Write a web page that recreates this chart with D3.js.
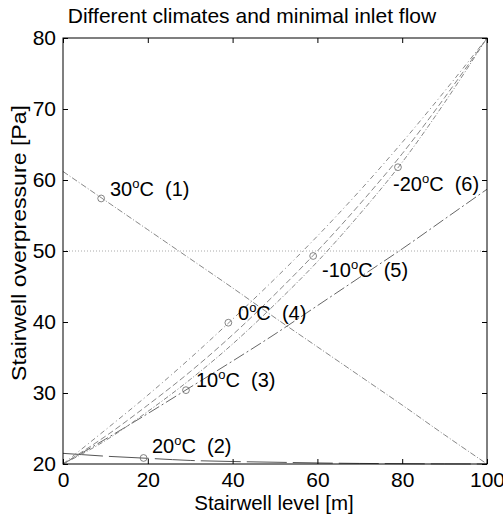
<!DOCTYPE html>
<html><head><meta charset="utf-8">
<script src="https://cdn.jsdelivr.net/npm/d3@7"></script>
<style>body{margin:0;background:#fff}text{font-family:"Liberation Sans",Arial,sans-serif;fill:#000;white-space:pre}</style>
</head><body><svg id="c" width="503" height="518"></svg>
<script>
const title = "Different climates and minimal inlet flow";
const xLabel = "Stairwell level [m]";
const yLabel = "Stairwell overpressure [Pa]";
const xTicks = [0,20,40,60,80,100];
const yTicks = [20,30,40,50,60,70,80];
const xs = [0,10,20,30,40,50,60,70,80,90,100];
const s1 = [61.2,57.1,53.0,48.9,44.8,40.6,36.5,32.4,28.3,24.1,20.0];     // 30°C
const s2 = [21.5,21.1,20.8,20.5,20.35,20.25,20.15,20.08,20.04,20.01,20.0]; // 20°C
const s3 = [20,23.5,27.1,30.8,34.5,38.3,42.3,46.3,50.3,54.5,58.7];    // 10°C
const s4 = [20,24.8,29.7,34.9,40.4,46.1,52.1,58.5,65.3,72.5,80];      // 0°C
const s5 = [20,23.9,28.3,33.0,38.2,43.9,50.0,56.6,63.7,71.6,80];     // -10°C
const s6 = [20,23.3,27.4,31.9,36.9,42.5,48.5,55.2,62.5,70.9,80];      // -20°C
const seriesNames = ["30","20","10","0","-10","-20"];
const seriesNums = ["(1)","(2)","(3)","(4)","(5)","(6)"];
const markerX = [9,19,29,39,59,79];
const markerY = [57.4,20.85,30.4,39.9,49.3,61.8];
const refLine = 50;

const svg = d3.select("#c");
const L=63,R=487,T=38,B=464;
const x = d3.scaleLinear().domain([0,100]).range([L,R]);
const y = d3.scaleLinear().domain([20,80]).range([B,T]);

svg.append("line").attr("x1",L).attr("x2",R).attr("y1",y(refLine)).attr("y2",y(refLine))
  .attr("stroke","#aaa").attr("stroke-dasharray","1,2");

const series=[s1,s2,s3,s4,s5,s6];
const dashes=["6,2,1,2","40,6","12,3,2,3","5,3,1,3","6,3","5,2,1,2"];
const colors=["#888","#555","#666","#888","#888","#888"];
const line=d3.line().x((d,i)=>x(xs[i])).y(d=>y(d)).curve(d3.curveMonotoneX);
series.forEach((s,k)=>{
  svg.append("path").attr("d",line(s)).attr("fill","none").attr("stroke",colors[k])
    .attr("stroke-width",1).attr("stroke-dasharray",dashes[k]);
  svg.append("circle").attr("cx",x(markerX[k])).attr("cy",y(markerY[k])).attr("r",3.4)
    .attr("fill","none").attr("stroke","#666").attr("stroke-width",0.8);
});

const labPos=[[110,189],[152,446],[196,380],[238,313],[322,270],[393,184]];
series.forEach((s,k)=>{
  const t=svg.append("text").attr("x",labPos[k][0]).attr("y",labPos[k][1]+7).attr("font-size",20);
  t.append("tspan").text(seriesNames[k]);
  t.append("tspan").attr("dy",-8).attr("font-size",13).text("o");
  t.append("tspan").attr("dy",8).text("C  "+seriesNums[k]);
});

svg.append("rect").attr("x",L).attr("y",T).attr("width",R-L).attr("height",B-T)
  .attr("fill","none").attr("stroke","#000").attr("stroke-width",1);

const tl=5;
const xb=svg.append("g").attr("transform",`translate(0,${B})`)
  .call(d3.axisBottom(x).tickValues(xTicks).tickSize(-tl).tickPadding(8).tickFormat(d3.format("d")));
const xt=svg.append("g").attr("transform",`translate(0,${T})`)
  .call(d3.axisTop(x).tickValues(xTicks).tickSize(-tl).tickFormat(""));
const yl=svg.append("g").attr("transform",`translate(${L},0)`)
  .call(d3.axisLeft(y).tickValues(yTicks).tickSize(-tl).tickPadding(10).tickFormat(d3.format("d")));
const yr=svg.append("g").attr("transform",`translate(${R},0)`)
  .call(d3.axisRight(y).tickValues(yTicks).tickSize(-tl).tickFormat(""));
[xb,xt,yl,yr].forEach(g=>{g.select(".domain").remove();
  g.selectAll("text").attr("font-size",21).attr("font-family","Liberation Sans, Arial, sans-serif").attr("fill","#000");
  g.selectAll("line").attr("stroke","#000");});
yl.selectAll("text").attr("dx",3);

svg.append("text").attr("x",252).attr("y",23).attr("text-anchor","middle").attr("font-size",21).text(title);
svg.append("text").attr("x",274).attr("y",510).attr("text-anchor","middle").attr("font-size",20.5).text(xLabel);
svg.append("text").attr("transform","translate(26,243) rotate(-90)").attr("text-anchor","middle").attr("font-size",21)
  .attr("textLength",276).attr("lengthAdjust","spacingAndGlyphs").text(yLabel);
</script></body></html>
